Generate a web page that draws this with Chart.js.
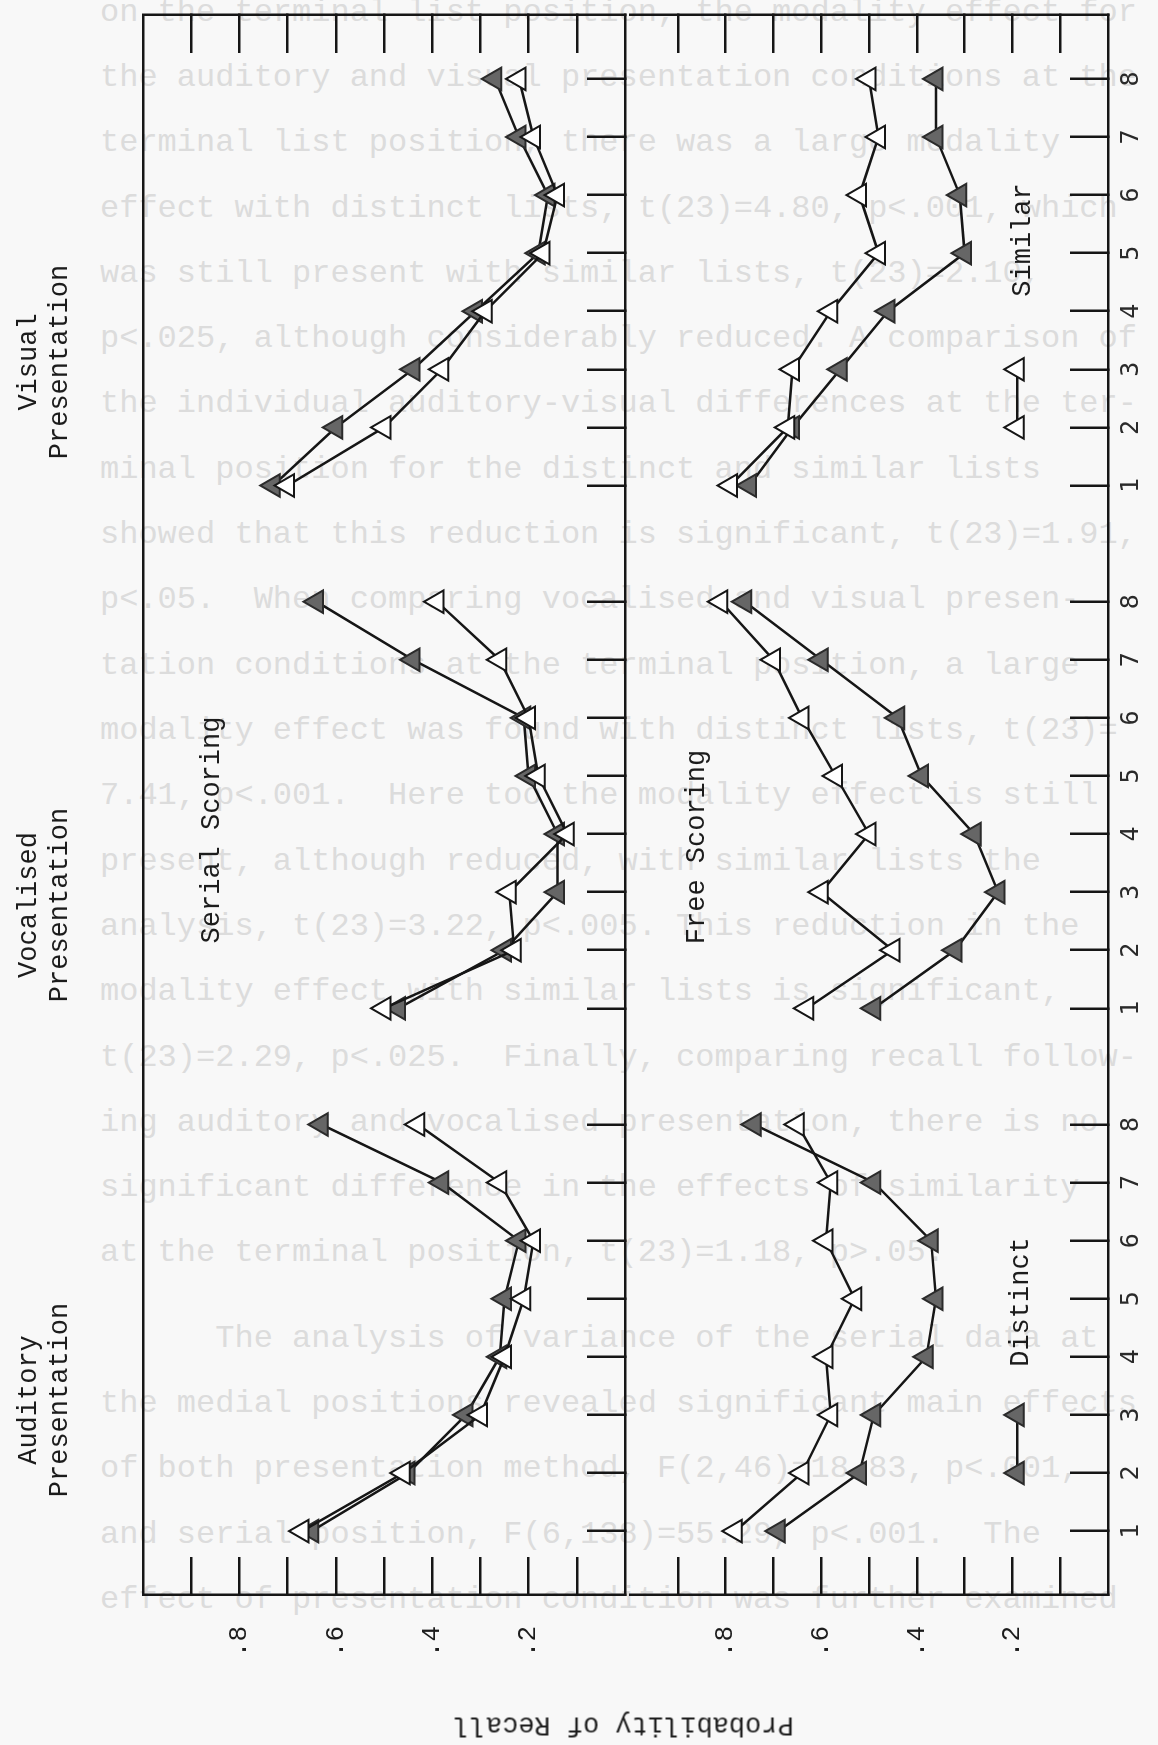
<!DOCTYPE html>
<html lang="en">
<head>
<meta charset="UTF-8">
<title>Probability of Recall</title>
<script src="https://cdn.jsdelivr.net/npm/chart.js"></script>
<style>
  body { margin: 0; background: #f8f8f8; }
  #sheet { position: relative; width: 1158px; height: 1745px; overflow: hidden; background: #f8f8f8; }
  .typed {
    position: absolute; left: 100px;
    font-family: "Liberation Mono", monospace; font-size: 32px;
    color: #dcdcdc; white-space: pre; line-height: 36px; margin-top: -18px;
  }
  /* the figure is laid out upright and turned a quarter turn onto the page */
  #figure {
    position: absolute; left: 0; top: 0; width: 1745px; height: 1158px;
    transform-origin: 0 0; transform: translate(0, 1745px) rotate(-90deg);
  }
  .box { position: absolute; left: 0; }
  .box canvas { display: block; }
  .lbl {
    position: absolute; width: 400px; margin-left: -200px;
    font-family: "Liberation Mono", monospace; font-size: 27px; color: #1c1c1c;
    text-align: center; white-space: pre; line-height: 31px;
  }
</style>
</head>
<body>
<div id="sheet">
  <div id="typed"></div>
  <div id="figure">
    <div class="box" style="top:0"><canvas id="serialChart" width="1745" height="640"></canvas></div>
    <div class="box" style="top:600px"><canvas id="freeChart" width="1745" height="558"></canvas></div>

    <div class="lbl" style="left:1383px; top:14px">Visual
Presentation</div>
    <div class="lbl" style="left:840px; top:14px">Vocalised
Presentation</div>
    <div class="lbl" style="left:345px; top:14px">Auditory
Presentation</div>

    <div class="lbl" style="left:915px; top:197px">Serial Scoring</div>
    <div class="lbl" style="left:898px; top:682px">Free Scoring</div>
    <div class="lbl" style="left:1505px; top:1008px">Similar</div>
    <div class="lbl" style="left:443px; top:1006px">Distinct</div>
    <div class="lbl" style="left:21px; top:608px; transform: rotate(-90deg)">Probability of Recall</div>
  </div>
</div>

<script>
    // serial positions within a list, and where each presentation block starts on the shared axis
    const positions = [1, 2, 3, 4, 5, 6, 7, 8];
    const blockStart = [0, 9, 18];   // auditory, vocalised, visual

    // probability axis ticks and their labels
    const probTicks = [0.1, 0.2, 0.3, 0.4, 0.5, 0.6, 0.7, 0.8, 0.9];
    const probLabels = ['', '.2', '', '.4', '', '.6', '', '.8', ''];

    // serial scoring
    const audSerialDistinct = [0.65, 0.45, 0.33, 0.26, 0.25, 0.22, 0.38, 0.63];
    const audSerialSimilar  = [0.67, 0.46, 0.30, 0.25, 0.21, 0.19, 0.26, 0.43];
    const vocSerialDistinct = [0.47, 0.25, 0.14, 0.14, 0.20, 0.21, 0.44, 0.64];
    const vocSerialSimilar  = [0.50, 0.23, 0.24, 0.12, 0.18, 0.20, 0.26, 0.39];
    const visSerialDistinct = [0.73, 0.60, 0.44, 0.31, 0.18, 0.16, 0.22, 0.27];
    const visSerialSimilar  = [0.70, 0.50, 0.38, 0.29, 0.17, 0.14, 0.19, 0.22];

    // free scoring
    const audFreeDistinct = [0.69, 0.52, 0.49, 0.38, 0.36, 0.37, 0.49, 0.74];
    const audFreeSimilar  = [0.78, 0.64, 0.58, 0.59, 0.53, 0.59, 0.58, 0.65];
    const vocFreeDistinct = [0.49, 0.32, 0.23, 0.28, 0.39, 0.44, 0.60, 0.76];
    const vocFreeSimilar  = [0.63, 0.45, 0.60, 0.50, 0.57, 0.64, 0.70, 0.81];
    const visFreeDistinct = [0.75, 0.66, 0.56, 0.46, 0.30, 0.31, 0.36, 0.36];
    const visFreeSimilar  = [0.79, 0.67, 0.66, 0.58, 0.48, 0.52, 0.48, 0.50];

    // key samples: two positions at the recall level the key sits at
    const keyPositions = [2, 3];
    const keyLevel = 0.19;

    const tickValues = [].concat(...blockStart.map(s => positions.map(p => s + p)));
    const positionLabels = [].concat(...blockStart.map(() => positions.map(String)));

    const INK = '#161616';

    // typed text of the page behind the figure
    const typedLines = [
        [13, 'on the terminal list position, the modality effect for'],
        [78, 'the auditory and visual presentation conditions at the'],
        [143, 'terminal list position, there was a large modality'],
        [209, 'effect with distinct lists, t(23)=4.80, p<.001, which'],
        [274, 'was still present with similar lists, t(23)=2.10,'],
        [339, 'p<.025, although considerably reduced. A comparison of'],
        [404, 'the individual auditory-visual differences at the ter-'],
        [470, 'minal position for the distinct and similar lists'],
        [535, 'showed that this reduction is significant, t(23)=1.91,'],
        [600, 'p<.05.  When comparing vocalised and visual presen-'],
        [666, 'tation conditions at the terminal position, a large'],
        [731, 'modality effect was found with distinct lists, t(23)='],
        [796, '7.41, p<.001.  Here too the modality effect is still'],
        [862, 'present, although reduced, with similar lists the'],
        [927, 'analysis, t(23)=3.22, p<.005. This reduction in the'],
        [992, 'modality effect with similar lists is significant,'],
        [1058, 't(23)=2.29, p<.025.  Finally, comparing recall follow-'],
        [1123, 'ing auditory and vocalised presentation, there is no'],
        [1188, 'significant difference in the effects of similarity'],
        [1253, 'at the terminal position, t(23)=1.18, p>.05.'],
        [1339, '      The analysis of variance of the serial data at'],
        [1404, 'the medial positions revealed significant main effects'],
        [1469, 'of both presentation method, F(2,46)=18.83, p<.001,'],
        [1535, 'and serial position, F(6,138)=55.29, p<.001.  The'],
        [1600, 'effect of presentation condition was further examined']
    ];
    const typed = document.getElementById('typed');
    typedLines.forEach(([y, text]) => {
        const d = document.createElement('div');
        d.className = 'typed';
        d.style.top = y + 'px';
        d.textContent = text;
        typed.appendChild(d);
    });

    function series(start, values, filled) {
        return {
            data: positions.map((p, i) => ({ x: start + p, y: values[i] })),
            borderColor: INK,
            borderWidth: 2.5,
            pointStyle: 'triangle',
            pointRadius: 13,
            pointBackgroundColor: filled ? '#666666' : '#ffffff',
            pointBorderColor: filled ? '#2b2b2b' : INK,
            pointBorderWidth: 2,
            tension: 0,
            clip: false
        };
    }

    function keySample(start, filled) {
        const s = series(start, [], filled);
        s.data = keyPositions.map(p => ({ x: start + p, y: keyLevel }));
        return s;
    }

    function inwardGrid() {
        return { drawOnChartArea: false, drawTicks: true, tickLength: -38, color: INK, lineWidth: 2.5 };
    }

    // fixed axis thickness, and no extra room reserved for end labels
    function fixSize(prop, size) {
        return s => {
            s[prop] = size;
            s.paddingTop = 0; s.paddingBottom = 0;
            s.paddingLeft = 0; s.paddingRight = 0;
        };
    }

    function makeScales(showPositionLabels, xHeight, topBorder) {
        return {
            x: {
                type: 'linear', position: 'bottom', min: -0.1, max: 27.1,
                afterBuildTicks: s => { s.ticks = tickValues.map(v => ({ value: v })); },
                afterFit: fixSize('height', xHeight),
                grid: inwardGrid(),
                border: { display: true, color: INK, width: 2.5 },
                ticks: {
                    display: showPositionLabels, autoSkip: false, maxRotation: 0, padding: 46,
                    color: '#2a2a2a', font: { family: 'DejaVu Sans Mono', size: 25 },
                    callback: (v, i) => positionLabels[i]
                }
            },
            xTop: {
                type: 'linear', position: 'top', min: -0.1, max: 27.1,
                afterFit: fixSize('height', 0),
                grid: { display: false },
                border: { display: topBorder, color: INK, width: 2.5 },
                ticks: { display: false }
            },
            y: {
                type: 'linear', position: 'left', min: 0, max: 1,
                afterBuildTicks: s => { s.ticks = probTicks.map(v => ({ value: v })); },
                afterFit: fixSize('width', 150),
                grid: inwardGrid(),
                border: { display: true, color: INK, width: 2.5 },
                ticks: {
                    padding: 69, color: '#1c1c1c',
                    font: { family: 'Liberation Mono', size: 26 },
                    callback: (v, i) => probLabels[i]
                }
            },
            yRight: {
                type: 'linear', position: 'right', min: 0, max: 1,
                afterBuildTicks: s => { s.ticks = probTicks.map(v => ({ value: v })); },
                afterFit: fixSize('width', 0),
                grid: inwardGrid(),
                border: { display: true, color: INK, width: 2.5 },
                ticks: { display: false }
            }
        };
    }

    const common = {
        responsive: false,
        animation: false,
        plugins: { legend: { display: false }, tooltip: { enabled: false } }
    };

    new Chart(document.getElementById('serialChart'), {
        type: 'line',
        data: {
            datasets: [
                series(blockStart[0], audSerialSimilar, false),
                series(blockStart[0], audSerialDistinct, true),
                series(blockStart[1], vocSerialSimilar, false),
                series(blockStart[1], vocSerialDistinct, true),
                series(blockStart[2], visSerialSimilar, false),
                series(blockStart[2], visSerialDistinct, true)
            ]
        },
        options: Object.assign({}, common, {
            layout: { padding: { top: 143, right: 5, bottom: 6, left: 0 } },
            scales: makeScales(false, 0, true)
        })
    });

    // the free-scoring panel shares its upper edge with the serial panel's lower edge
    new Chart(document.getElementById('freeChart'), {
        type: 'line',
        data: {
            datasets: [
                series(blockStart[0], audFreeSimilar, false),
                series(blockStart[0], audFreeDistinct, true),
                series(blockStart[1], vocFreeSimilar, false),
                series(blockStart[1], vocFreeDistinct, true),
                series(blockStart[2], visFreeSimilar, false),
                series(blockStart[2], visFreeDistinct, true),
                keySample(blockStart[2], false),
                keySample(blockStart[0], true)
            ]
        },
        options: Object.assign({}, common, {
            layout: { padding: { top: 30, right: 5, bottom: 0, left: 0 } },
            scales: makeScales(true, 50, false)
        })
    });
</script>
</body>
</html>
